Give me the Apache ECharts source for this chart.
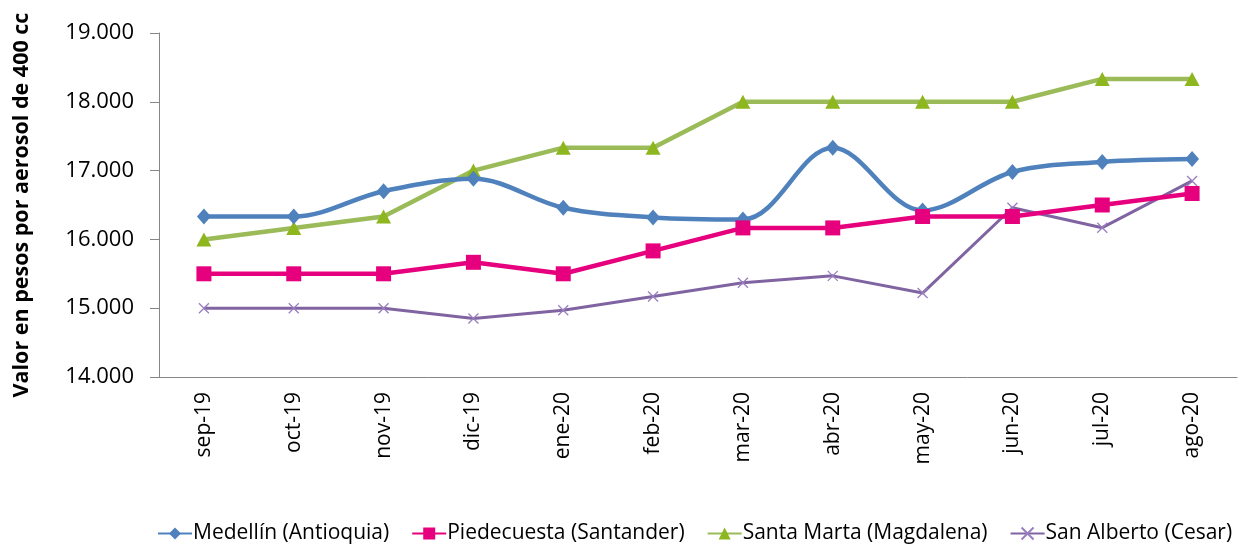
<!DOCTYPE html>
<html>
<head>
<meta charset="utf-8">
<script src="https://cdn.jsdelivr.net/npm/echarts@6/dist/echarts.min.js"></script>
<style>html,body{margin:0;padding:0;background:#fff}#c{width:1241px;height:544px}</style>
</head>
<body>
<div id="c"></div>
<script>
const categories = ['sep-19','oct-19','nov-19','dic-19','ene-20','feb-20','mar-20','abr-20','may-20','jun-20','jul-20','ago-20'];
const medellin = [16333,16333,16700,16880,16460,16320,16290,17333,16420,16980,17125,17167];
const piedecuesta = [15500,15500,15500,15667,15500,15833,16167,16167,16333,16333,16500,16667];
const santaMarta = [16000,16167,16333,17000,17333,17333,18000,18000,18000,18000,18333,18333];
const sanAlberto = [15000,15000,15000,14850,14970,15170,15370,15470,15220,16460,16170,16850];
const yTicks = {min:14000, max:19000, interval:1000};
const yName = 'Valor en pesos por aerosol de 400 cc';

const FONT = '"Open Sans", "Noto Sans", sans-serif';
const chart = echarts.init(document.getElementById('c'), null, {renderer:'canvas'});
const fmt = v => String(v).replace(/\B(?=(\d{3})+(?!\d))/g, '.');
const xPath = 'path://M0,0L10,10M10,0L0,10';
chart.setOption({
  animation:false,
  textStyle:{fontFamily:FONT},
  grid:{left:159, right:4, top:33, bottom:167, containLabel:false},
  legend:{
    top:518, left:152, itemGap:22, itemWidth:34, itemHeight:15,
    textStyle:{fontFamily:FONT, fontSize:21, color:'#000', padding:[0,0,0,-4]},
    data:['Medellín (Antioquia)','Piedecuesta (Santander)','Santa Marta (Magdalena)','San Alberto (Cesar)']
  },
  xAxis:{
    type:'category', data:categories, boundaryGap:true,
    axisLine:{lineStyle:{color:'#868686', width:1}},
    axisTick:{show:false},
    axisLabel:{rotate:90, fontSize:21, color:'#000', fontFamily:FONT, margin:15}
  },
  yAxis:{
    type:'value', min:yTicks.min, max:yTicks.max, interval:yTicks.interval,
    name:yName, nameLocation:'middle', nameGap:126, nameRotate:90,
    nameTextStyle:{fontFamily:FONT, fontWeight:'bold', fontSize:21.5, color:'#000'},
    axisLine:{show:true, lineStyle:{color:'#868686', width:1}},
    axisTick:{show:true, length:9, lineStyle:{color:'#868686'}},
    splitLine:{show:false},
    axisLabel:{formatter:fmt, fontSize:22, color:'#000', fontFamily:FONT, margin:25}
  },
  series:[
    {name:'Medellín (Antioquia)', type:'line', data:medellin, smooth:0.35,
     symbol:'diamond', symbolSize:[14,16], lineStyle:{color:'#4F81BD', width:4.5},
     itemStyle:{color:'#4F81BD'}, z:3},
    {name:'Piedecuesta (Santander)', type:'line', data:piedecuesta,
     symbol:'rect', symbolSize:15, lineStyle:{color:'#E6007E', width:4.5},
     itemStyle:{color:'#E6007E'}, z:4},
    {name:'Santa Marta (Magdalena)', type:'line', data:santaMarta,
     symbol:'triangle', symbolSize:[15,14], lineStyle:{color:'#9BBB59', width:4.5},
     itemStyle:{color:'#8DB61F'}, z:2},
    {name:'San Alberto (Cesar)', type:'line', data:sanAlberto,
     symbol:xPath, symbolSize:10, lineStyle:{color:'#8064A2', width:3},
     itemStyle:{color:'#8064A2', borderColor:'#9A7FC0', borderWidth:1.3}, z:1}
  ]
});
</script>
</body>
</html>
